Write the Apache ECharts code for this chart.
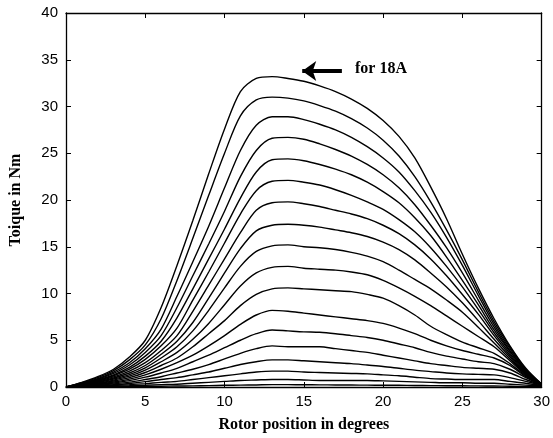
<!DOCTYPE html>
<html>
<head>
<meta charset="utf-8">
<script src="https://cdn.jsdelivr.net/npm/echarts@6/dist/echarts.min.js"></script>
<style>
  html, body { margin: 0; padding: 0; background: #fff; }
  #chart { width: 553px; height: 438px; }
</style>
</head>
<body>
<div id="chart"></div>
<script>
// rotor position in degrees
const deg = [0, 1, 2, 3, 4, 5, 6, 7, 8, 9, 10, 11, 12, 13, 14, 15, 16, 17, 18, 19, 20, 21, 22, 23, 24, 25, 26, 27, 28, 29, 30];
const xTicks = [0, 5, 10, 15, 20, 25, 30];
const yTicks = [0, 5, 10, 15, 20, 25, 30, 35, 40];

// torque (Nm) for phase currents 1A .. 18A
const t1 = [0, 0.01, 0.02, 0.03, 0.05, 0.06, 0.08, 0.1, 0.12, 0.15, 0.18, 0.2, 0.22, 0.25, 0.25, 0.24, 0.23, 0.22, 0.21, 0.2, 0.19, 0.18, 0.16, 0.15, 0.14, 0.13, 0.12, 0.1, 0.08, 0.06, 0.05];
const t2 = [0, 0.02, 0.05, 0.08, 0.13, 0.19, 0.25, 0.3, 0.4, 0.5, 0.6, 0.7, 0.75, 0.8, 0.8, 0.75, 0.7, 0.7, 0.7, 0.7, 0.65, 0.6, 0.55, 0.5, 0.45, 0.45, 0.4, 0.4, 0.3, 0.2, 0.1];
const t3 = [0, 0.04, 0.09, 0.16, 0.25, 0.36, 0.5, 0.6, 0.8, 1.0, 1.2, 1.4, 1.6, 1.7, 1.7, 1.6, 1.55, 1.5, 1.45, 1.4, 1.3, 1.2, 1.05, 0.9, 0.85, 0.8, 0.8, 0.8, 0.6, 0.4, 0.15];
const t4 = [0, 0.06, 0.14, 0.24, 0.38, 0.57, 0.8, 1.0, 1.3, 1.6, 2.0, 2.4, 2.7, 2.9, 2.9, 2.8, 2.7, 2.6, 2.5, 2.35, 2.2, 2.0, 1.8, 1.65, 1.5, 1.4, 1.35, 1.3, 1.0, 0.6, 0.2];
const t5 = [0, 0.09, 0.19, 0.33, 0.52, 0.8, 1.1, 1.5, 1.9, 2.4, 3.0, 3.6, 4.1, 4.4, 4.3, 4.3, 4.3, 4.1, 3.9, 3.7, 3.4, 3.1, 2.8, 2.5, 2.3, 2.1, 2.0, 1.9, 1.5, 0.8, 0.2];
const t6 = [0, 0.11, 0.25, 0.43, 0.68, 1.05, 1.5, 2.0, 2.7, 3.4, 4.2, 5.0, 5.7, 6.1, 6.0, 5.9, 5.85, 5.7, 5.5, 5.3, 5.0, 4.6, 4.2, 3.7, 3.3, 3.0, 2.7, 2.5, 1.9, 1.0, 0.25];
const t7 = [0, 0.13, 0.31, 0.53, 0.84, 1.3, 1.9, 2.6, 3.4, 4.4, 5.5, 6.7, 7.7, 8.2, 8.1, 7.9, 7.7, 7.5, 7.3, 7.1, 6.8, 6.3, 5.7, 5.0, 4.4, 3.9, 3.5, 3.1, 2.3, 1.1, 0.25];
const t8 = [0, 0.16, 0.37, 0.64, 1.0, 1.55, 2.3, 3.1, 4.3, 5.7, 7.1, 8.7, 9.9, 10.5, 10.6, 10.5, 10.4, 10.3, 10.2, 9.9, 9.5, 8.7, 7.7, 6.5, 5.6, 4.8, 4.2, 3.6, 2.5, 1.2, 0.25];
const t9 = [0, 0.19, 0.43, 0.74, 1.16, 1.8, 2.7, 3.7, 5.1, 6.8, 8.8, 10.8, 12.2, 12.8, 12.9, 12.7, 12.6, 12.5, 12.3, 12.0, 11.4, 10.6, 9.7, 8.7, 7.6, 6.5, 5.4, 4.3, 2.8, 1.3, 0.25];
const t10 = [0, 0.22, 0.49, 0.85, 1.33, 2.05, 3.1, 4.3, 6.0, 8.2, 10.6, 12.9, 14.5, 15.1, 15.2, 15.0, 14.9, 14.7, 14.4, 14.0, 13.4, 12.5, 11.5, 10.5, 9.3, 8.0, 6.4, 4.7, 3.0, 1.4, 0.25];
const t11 = [0, 0.25, 0.55, 0.96, 1.5, 2.3, 3.5, 4.9, 6.9, 9.5, 12.2, 14.8, 16.7, 17.3, 17.4, 17.3, 17.1, 16.8, 16.5, 16.1, 15.5, 14.7, 13.6, 12.2, 10.7, 9.0, 7.1, 5.1, 3.2, 1.4, 0.25];
const t12 = [0, 0.28, 0.62, 1.08, 1.7, 2.6, 3.9, 5.5, 8.1, 10.9, 13.7, 16.5, 18.9, 19.7, 19.8, 19.6, 19.3, 18.9, 18.5, 18.0, 17.3, 16.4, 15.2, 13.7, 11.9, 9.9, 7.8, 5.5, 3.4, 1.5, 0.3];
const t13 = [0, 0.31, 0.69, 1.2, 1.9, 2.95, 4.4, 6.3, 9.3, 12.3, 15.4, 18.5, 21.0, 22.0, 22.1, 21.9, 21.6, 21.1, 20.5, 19.8, 19.0, 17.9, 16.6, 14.9, 12.9, 10.7, 8.3, 5.8, 3.6, 1.6, 0.3];
const t14 = [0, 0.34, 0.76, 1.3, 2.1, 3.3, 4.9, 7.4, 10.5, 13.7, 16.9, 20.2, 23.0, 24.3, 24.4, 24.2, 23.8, 23.3, 22.7, 21.9, 20.9, 19.7, 18.1, 16.2, 13.9, 11.4, 8.8, 6.1, 3.8, 1.7, 0.3];
const t15 = [0, 0.37, 0.83, 1.45, 2.35, 3.7, 5.5, 8.5, 11.9, 15.3, 18.8, 22.5, 25.3, 26.6, 26.7, 26.5, 26.0, 25.4, 24.7, 23.8, 22.7, 21.3, 19.5, 17.3, 14.9, 12.2, 9.3, 6.4, 3.9, 1.7, 0.3];
const t16 = [0, 0.4, 0.9, 1.6, 2.6, 4.1, 6.2, 9.7, 13.4, 17.2, 21.3, 25.3, 28.0, 28.9, 28.9, 28.6, 28.1, 27.5, 26.7, 25.7, 24.5, 23.0, 21.0, 18.7, 16.0, 13.0, 9.8, 6.7, 4.1, 1.8, 0.3];
const t17 = [0, 0.45, 1.0, 1.75, 2.9, 4.5, 7.3, 11.4, 15.9, 20.5, 25.0, 29.0, 30.7, 31.0, 30.9, 30.6, 30.1, 29.5, 28.7, 27.7, 26.4, 24.7, 22.5, 19.8, 16.8, 13.6, 10.2, 7.0, 4.3, 1.9, 0.3];
const t18 = [0, 0.5, 1.1, 1.9, 3.2, 5.0, 8.5, 13.0, 17.8, 22.8, 27.6, 31.6, 33.0, 33.2, 33.0, 32.7, 32.2, 31.6, 30.8, 29.8, 28.5, 26.8, 24.5, 21.4, 18.0, 14.2, 10.6, 7.3, 4.4, 2.0, 0.3];

const currents = ["1A", "2A", "3A", "4A", "5A", "6A", "7A", "8A", "9A", "10A", "11A", "12A", "13A", "14A", "15A", "16A", "17A", "18A"];
const torques = [t1, t2, t3, t4, t5, t6, t7, t8, t9, t10, t11, t12, t13, t14, t15, t16, t17, t18];

const chart = echarts.init(document.getElementById("chart"), null, { renderer: "canvas" });

const serif = "'Liberation Serif', 'Times New Roman', serif";
const sans = "'Liberation Sans', Arial, sans-serif";

const series = torques.map((vals, i) => {
  const s = {
    name: currents[i],
    type: "line",
    data: vals.map((v, j) => [deg[j], v]),
    showSymbol: false,
    smooth: 0.3,
    lineStyle: { color: "#000", width: 1.4 },
    silent: true,
    z: 3,
  };
  if (currents[i] === "18A") {
    // arrow pointing at the 18A curve
    s.markLine = {
      silent: true,
      symbol: ["none", "arrow"],
      symbolSize: [15, 14],
      lineStyle: { color: "#000", width: 4, type: "solid" },
      label: { show: false },
      data: [[{ coord: [17.4, 33.8] }, { coord: [14.9, 33.8] }]],
    };
  }
  return s;
});

function mirrorAxis(base) {
  return Object.assign({}, base, {
    axisLabel: { show: false },
    name: "",
  });
}

const xBase = {
  type: "value",
  min: 0,
  max: 30,
  interval: 5,
  axisLine: { show: true, onZero: false, lineStyle: { color: "#000", width: 1.3 } },
  axisTick: { show: true, inside: true, length: 5, lineStyle: { color: "#000", width: 1 } },
  splitLine: { show: false },
  axisLabel: {
    color: "#000",
    fontFamily: sans,
    fontSize: 15,
    margin: 7,
    formatter: (v) => (xTicks.includes(v) ? String(v) : ""),
  },
};

const yBase = {
  type: "value",
  min: 0,
  max: 40,
  interval: 5,
  axisLine: { show: true, onZero: false, lineStyle: { color: "#000", width: 1.3 } },
  axisTick: { show: true, inside: true, length: 5, lineStyle: { color: "#000", width: 1 } },
  splitLine: { show: false },
  axisLabel: {
    color: "#000",
    fontFamily: sans,
    fontSize: 15,
    margin: 8,
    formatter: (v) => (yTicks.includes(v) ? String(v) : ""),
  },
};

chart.setOption({
  backgroundColor: "#fff",
  animation: false,
  grid: { left: 66, right: 7, top: 13, bottom: 50 },
  xAxis: [
    Object.assign({}, xBase, {
      position: "bottom",
      name: "Rotor position in degrees",
      nameLocation: "middle",
      nameGap: 30,
      nameTextStyle: { color: "#000", fontFamily: serif, fontWeight: "bold", fontSize: 16 },
    }),
    mirrorAxis(Object.assign({}, xBase, { position: "top" })),
  ],
  yAxis: [
    Object.assign({}, yBase, {
      position: "left",
      name: "Toique in Nm",
      nameLocation: "middle",
      nameGap: 42,
      nameTextStyle: { color: "#000", fontFamily: serif, fontWeight: "bold", fontSize: 16 },
    }),
    mirrorAxis(Object.assign({}, yBase, { position: "right" })),
  ],
  graphic: [
    {
      type: "text",
      left: 355,
      top: 61,
      style: { text: "for 18A", fill: "#000", font: "bold 16px " + serif },
    },
  ],
  series: series,
});
</script>
</body>
</html>
